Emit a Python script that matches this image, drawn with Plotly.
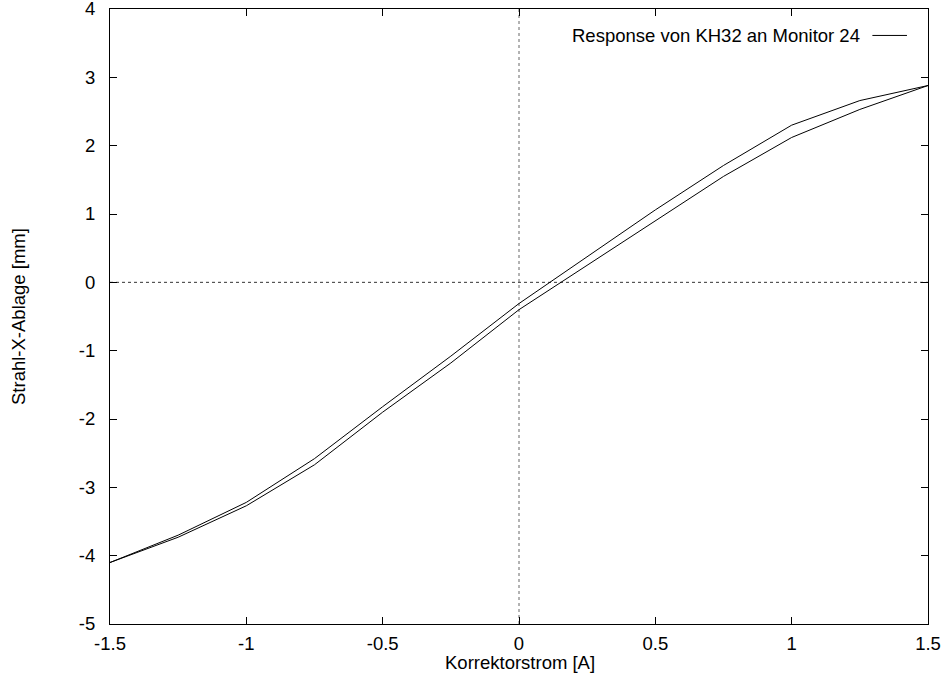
import plotly.graph_objects as go

# Corrector current [A]
current = [-1.5, -1.25, -1.0, -0.75, -0.5, -0.25, 0.0, 0.25, 0.5, 0.75, 1.0, 1.25, 1.5]
# Beam offset, increasing-current branch [mm]
offset_up = [-4.10, -3.73, -3.27, -2.67, -1.90, -1.18, -0.40, 0.25, 0.90, 1.55, 2.12, 2.53, 2.88]
# Beam offset, decreasing-current branch [mm]
offset_down = [-4.10, -3.70, -3.22, -2.58, -1.82, -1.08, -0.31, 0.38, 1.06, 1.71, 2.30, 2.66, 2.88]

x_ticks = [-1.5, -1, -0.5, 0, 0.5, 1, 1.5]
x_ticklabels = ["-1.5", "-1", "-0.5", "0", "0.5", "1", "1.5"]
y_ticks = [-5, -4, -3, -2, -1, 0, 1, 2, 3, 4]
y_ticklabels = ["-5", "-4", "-3", "-2", "-1", "0", "1", "2", "3", "4"]

series_name = "Response von KH32 an Monitor 24"
x_title = "Korrektorstrom [A]"
y_title = "Strahl-X-Ablage [mm]"

xs = current + current[::-1]
ys = offset_up + offset_down[::-1]

FONT = "Liberation Sans, Arial, sans-serif"
FS = 18.5

fig = go.Figure()
fig.add_trace(go.Scatter(x=xs, y=ys, mode="lines", name=series_name,
                         line=dict(color="black", width=1), showlegend=False))

axis_common = dict(showline=True, linecolor="black", linewidth=1, mirror="ticks",
                   ticks="inside", ticklen=7, tickcolor="black", tickwidth=1,
                   showgrid=False, zeroline=False, automargin=False,
                   ticklabeloverflow="allow",
                   tickfont=dict(family=FONT, size=FS, color="black"))

fig.update_xaxes(range=[-1.5, 1.5], tickvals=x_ticks, ticktext=x_ticklabels,
                 ticklabelstandoff=3, **axis_common)
fig.update_yaxes(range=[-5, 4], tickvals=y_ticks, ticktext=y_ticklabels,
                 ticklabelstandoff=10, **axis_common)

# zero axes (dotted)
fig.add_shape(type="line", xref="x", yref="paper", x0=0, x1=0, y0=0, y1=1,
              line=dict(color="#666666", width=1, dash="dot"), layer="below")
fig.add_shape(type="line", xref="paper", yref="y", x0=0, x1=1, y0=0, y1=0,
              line=dict(color="#333333", width=1, dash="dot"), layer="below")

# legend (gnuplot style: text then sample line)
fig.add_annotation(xref="paper", yref="paper", x=0.9193, y=0.957, xanchor="right",
                   yanchor="middle", text=series_name, showarrow=False,
                   font=dict(family=FONT, size=FS, color="black"))
fig.add_shape(type="line", xref="paper", yref="paper", x0=0.932, x1=0.9743,
              y0=0.957, y1=0.957, line=dict(color="black", width=1))

# axis titles
fig.add_annotation(xref="paper", yref="paper", x=0.501, y=-0.0618, xanchor="center",
                   yanchor="middle", text=x_title, showarrow=False,
                   font=dict(family=FONT, size=FS, color="black"))
fig.add_annotation(xref="paper", yref="paper", x=-0.1125, y=0.5008, xanchor="center",
                   yanchor="middle", text=y_title, textangle=-90, showarrow=False,
                   font=dict(family=FONT, size=FS, color="black"))

fig.update_layout(width=943, height=677, margin=dict(l=110, r=15, t=9, b=53),
                  plot_bgcolor="white", paper_bgcolor="white",
                  font=dict(family=FONT, size=FS, color="black"))

fig.write_html("out.html", config={"displayModeBar": False},
               post_script="document.body.style.margin='0';document.body.style.overflow='hidden';")
